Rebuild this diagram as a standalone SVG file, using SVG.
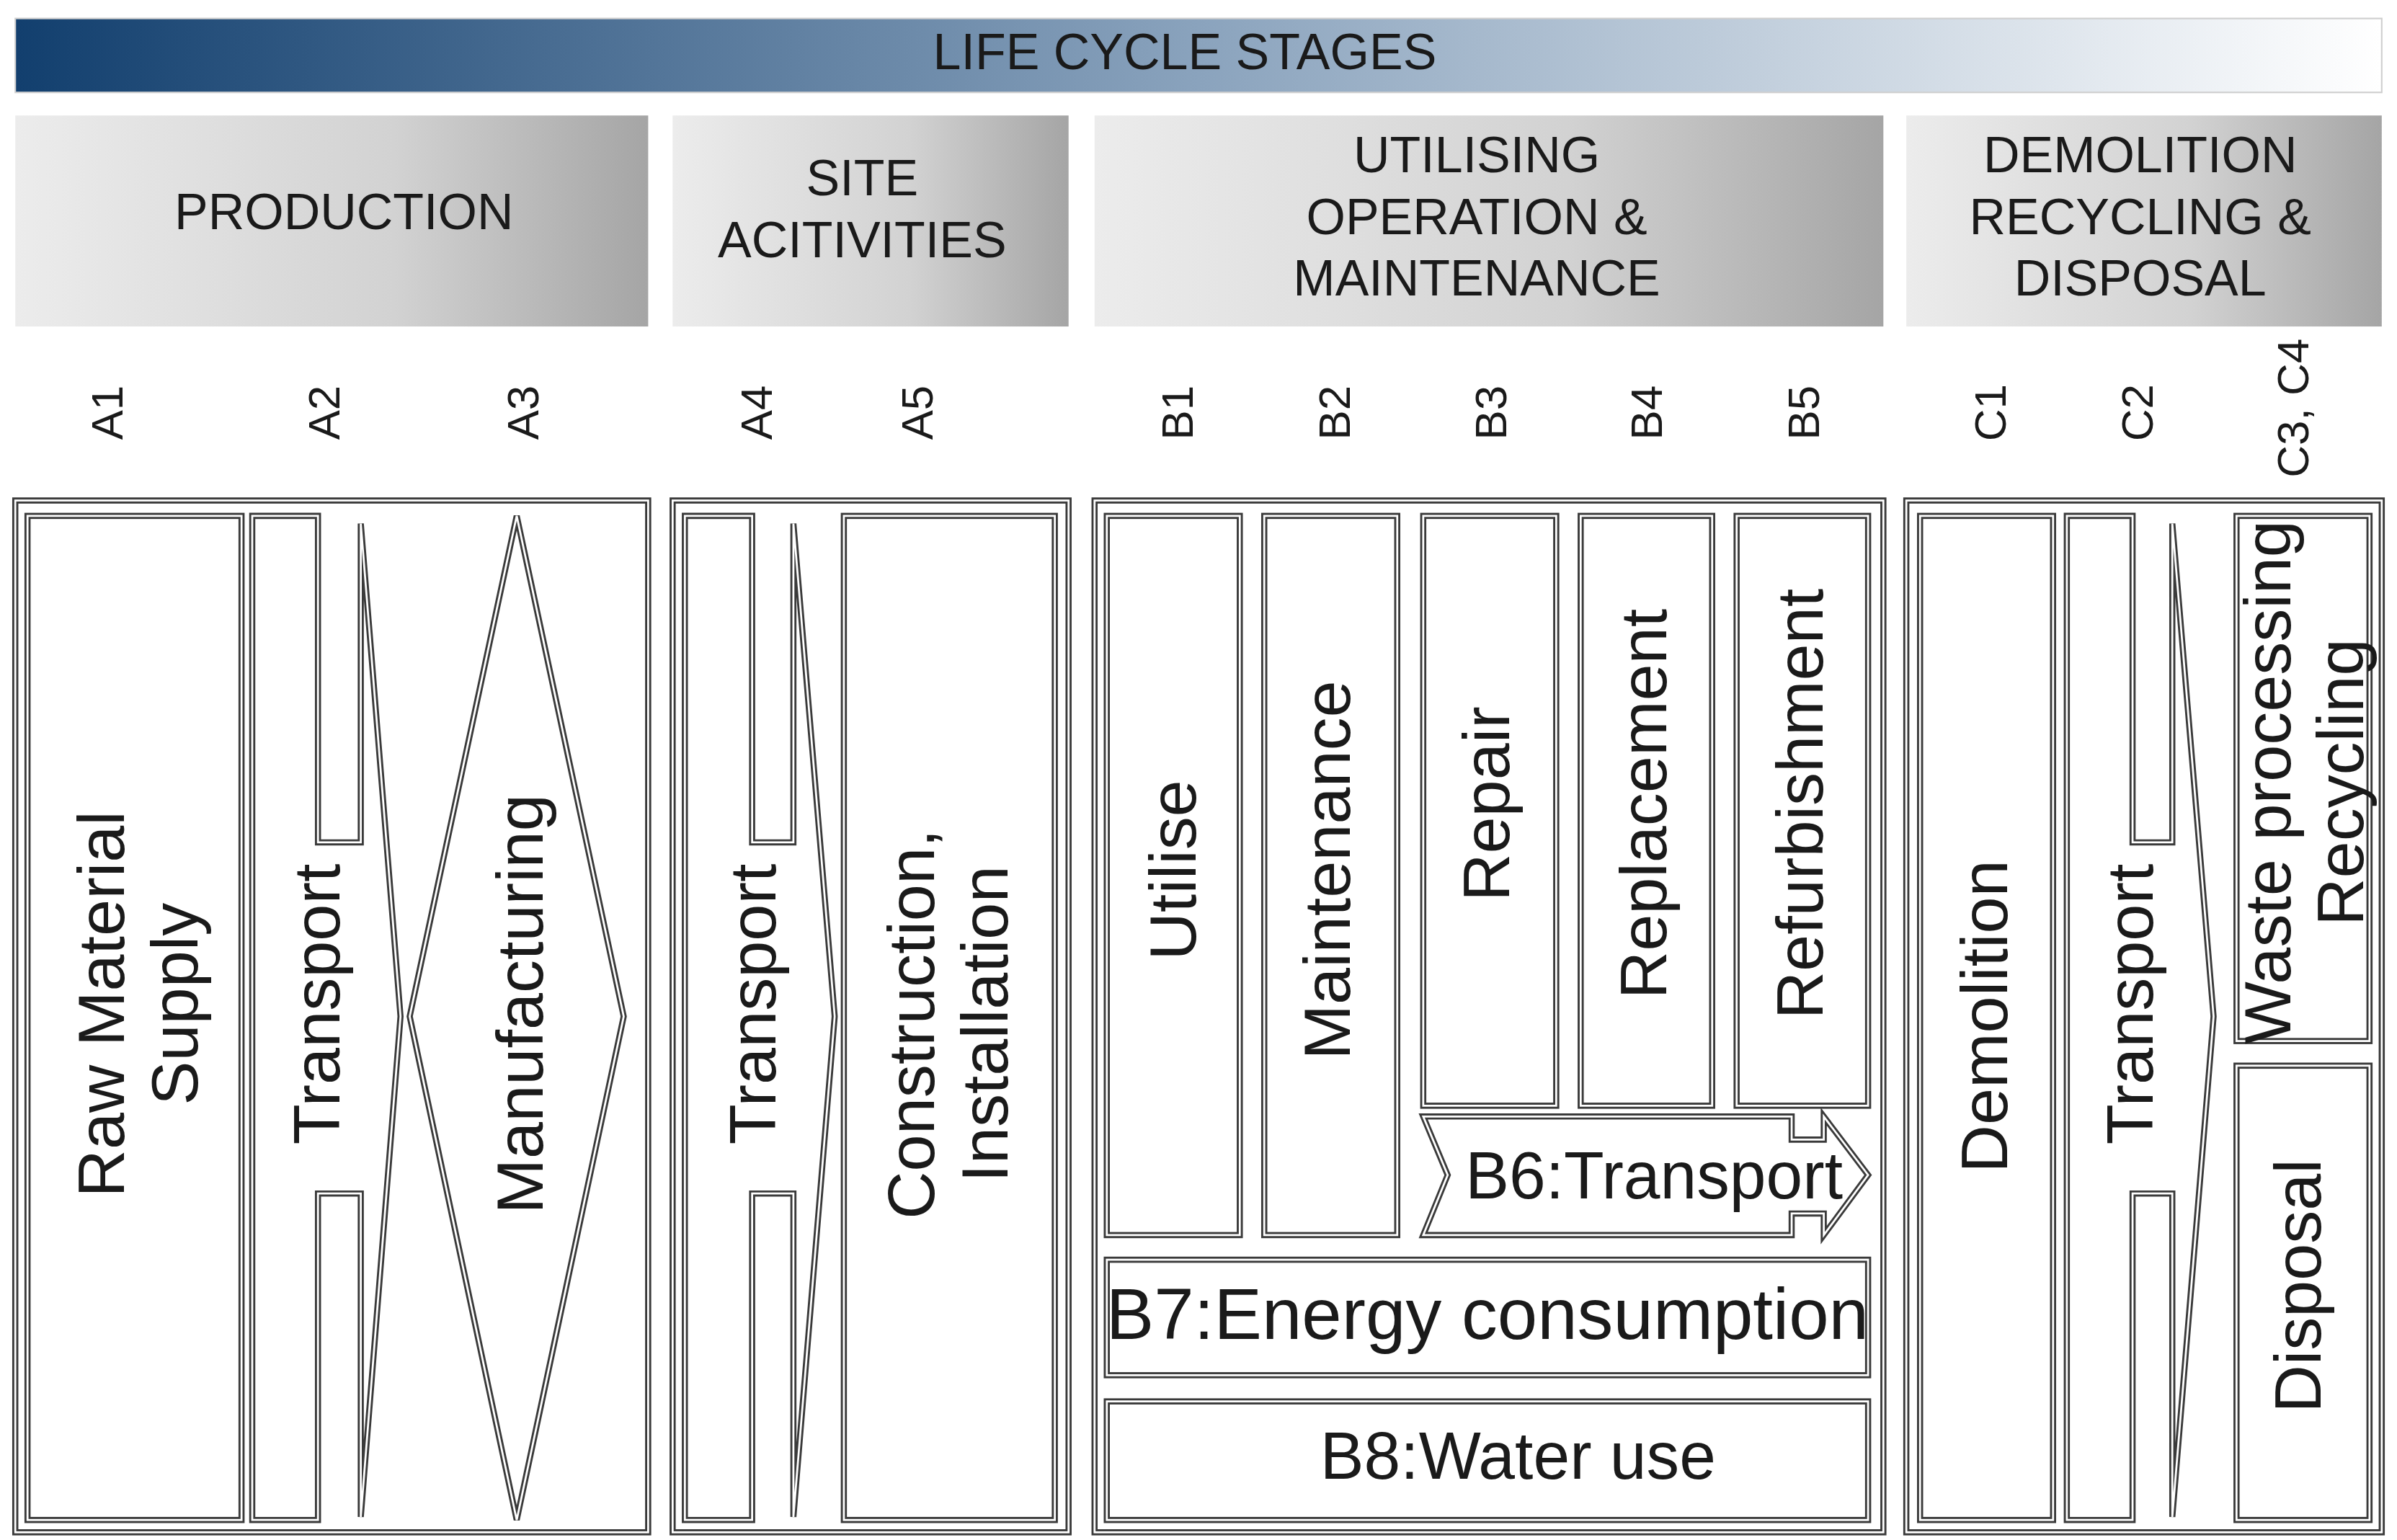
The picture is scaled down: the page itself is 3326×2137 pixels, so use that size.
<svg xmlns="http://www.w3.org/2000/svg" xmlns:xlink="http://www.w3.org/1999/xlink" width="3326" height="2137" viewBox="0 0 3326 2137">
<style>
text{font-family:"Liberation Sans",Arial,sans-serif;fill:#1a1a1a}
.o{fill:#fff;stroke:#3a3a3a;stroke-width:4}
.i{fill:none;stroke:#fff;stroke-width:1.3}
.h{font-size:33px;text-anchor:middle}
.c{font-size:29px;text-anchor:middle;dominant-baseline:central}
.t{font-size:43px;text-anchor:middle;dominant-baseline:central}
</style>
<defs>
<linearGradient id="gt" x1="0" x2="1"><stop offset="0" stop-color="#123f6e"/><stop offset="0.5" stop-color="#8aa3bd"/><stop offset="1" stop-color="#ffffff"/></linearGradient>
<linearGradient id="gh" x1="0" x2="1"><stop offset="0" stop-color="#ececec"/><stop offset="0.6" stop-color="#d2d2d2"/><stop offset="1" stop-color="#a5a5a5"/></linearGradient>
<rect id="p1" x="10" y="325" width="414" height="670"/>
<rect id="p2" x="440" y="325" width="259" height="670"/>
<rect id="p3" x="716" y="325" width="516" height="670"/>
<rect id="p4" x="1247" y="325" width="311" height="670"/>
<rect id="raw" x="18" y="335" width="140" height="652"/>
<polygon id="tr1" points="165,335 208,335 208,547 236,547 236,340 262,660 236,985 236,775 208,775 208,987 165,987"/>
<polygon id="man" points="338,335 408,660 338,987 268,660"/>
<polygon id="tr2" points="448,335 492,335 492,547 519,547 519,340 546,660 519,985 519,775 492,775 492,987 448,987"/>
<rect id="con" x="552" y="335" width="138" height="652"/>
<rect id="b1" x="724" y="335" width="87" height="467"/>
<rect id="b2" x="827" y="335" width="87" height="467"/>
<rect id="b3" x="931" y="335" width="87" height="383"/>
<rect id="b4" x="1034" y="335" width="86" height="383"/>
<rect id="b5" x="1136" y="335" width="86" height="383"/>
<polygon id="b6" points="931,725 1172,725 1172,740 1193,740 1193,725 1222,763 1193,802 1193,788 1172,788 1172,802 931,802 947,763"/>
<rect id="b7" x="724" y="818" width="498" height="75"/>
<rect id="b8" x="724" y="910" width="498" height="77"/>
<rect id="c1" x="1256" y="335" width="87" height="652"/>
<polygon id="tr3" points="1352,335 1395,335 1395,547 1421,547 1421,340 1448,660 1421,985 1421,775 1395,775 1395,987 1352,987"/>
<rect id="c3" x="1463" y="335" width="87" height="341"/>
<rect id="c4" x="1463" y="692" width="87" height="295"/>
</defs>
<g transform="scale(2.1212,2.137)">
<g id="title"><rect x="10" y="12" width="1548" height="48" fill="url(#gt)" stroke="#cfcfcf"/><text class="h" x="775" y="45" fill="#1f2f45">LIFE CYCLE STAGES</text></g>
<g id="headers">
<rect x="10" y="75" width="414" height="137" fill="url(#gh)"/>
<rect x="440" y="75" width="259" height="137" fill="url(#gh)"/>
<rect x="716" y="75" width="516" height="137" fill="url(#gh)"/>
<rect x="1247" y="75" width="311" height="137" fill="url(#gh)"/>
<text class="h" x="225" y="149">PRODUCTION</text>
<text class="h" x="564" y="127">SITE</text><text class="h" x="564" y="167">ACITIVITIES</text>
<text class="h" x="966" y="112">UTILISING</text><text class="h" x="966" y="152">OPERATION &amp;</text><text class="h" x="966" y="192">MAINTENANCE</text>
<text class="h" x="1400" y="112">DEMOLITION</text><text class="h" x="1400" y="152">RECYCLING &amp;</text><text class="h" x="1400" y="192">DISPOSAL</text>
</g>
<g id="codes">
<text class="c" transform="translate(70,268) rotate(-90)">A1</text>
<text class="c" transform="translate(212,268) rotate(-90)">A2</text>
<text class="c" transform="translate(342,268) rotate(-90)">A3</text>
<text class="c" transform="translate(495,268) rotate(-90)">A4</text>
<text class="c" transform="translate(600,268) rotate(-90)">A5</text>
<text class="c" transform="translate(770,268) rotate(-90)">B1</text>
<text class="c" transform="translate(873,268) rotate(-90)">B2</text>
<text class="c" transform="translate(975,268) rotate(-90)">B3</text>
<text class="c" transform="translate(1077,268) rotate(-90)">B4</text>
<text class="c" transform="translate(1180,268) rotate(-90)">B5</text>
<text class="c" transform="translate(1302,268) rotate(-90)">C1</text>
<text class="c" transform="translate(1398,268) rotate(-90)">C2</text>
<text class="c" transform="translate(1500,265) rotate(-90)">C3, C4</text>
</g>
<g id="panels"><use href="#p1" class="o"/><use href="#p1" class="i"/><use href="#p2" class="o"/><use href="#p2" class="i"/><use href="#p3" class="o"/><use href="#p3" class="i"/><use href="#p4" class="o"/><use href="#p4" class="i"/></g>
<g id="raw-material"><use href="#raw" class="o"/><use href="#raw" class="i"/><text class="t" transform="translate(90,652) rotate(-90)"><tspan x="0" dy="-24">Raw Material</tspan><tspan x="0" dy="48">Supply</tspan></text></g>
<g id="transport-a2"><use href="#tr1" class="o"/><use href="#tr1" class="i"/><text class="t" transform="translate(207,652) rotate(-90)">Transport</text></g>
<g id="manufacturing"><use href="#man" class="o"/><use href="#man" class="i"/><text class="t" transform="translate(340,652) rotate(-90)">Manufacturing</text></g>
<g id="transport-a4"><use href="#tr2" class="o"/><use href="#tr2" class="i"/><text class="t" transform="translate(492,652) rotate(-90)">Transport</text></g>
<g id="construction"><use href="#con" class="o"/><use href="#con" class="i"/><text class="t" transform="translate(620,665) rotate(-90)"><tspan x="0" dy="-24">Construction,</tspan><tspan x="0" dy="48">Installation</tspan></text></g>
<g id="utilise"><use href="#b1" class="o"/><use href="#b1" class="i"/><text class="t" transform="translate(767,565) rotate(-90)">Utilise</text></g>
<g id="maintenance"><use href="#b2" class="o"/><use href="#b2" class="i"/><text class="t" transform="translate(868,565) rotate(-90)">Maintenance</text></g>
<g id="repair"><use href="#b3" class="o"/><use href="#b3" class="i"/><text class="t" transform="translate(972,522) rotate(-90)">Repair</text></g>
<g id="replacement"><use href="#b4" class="o"/><use href="#b4" class="i"/><text class="t" transform="translate(1075,522) rotate(-90)">Replacement</text></g>
<g id="refurbishment"><use href="#b5" class="o"/><use href="#b5" class="i"/><text class="t" transform="translate(1177,522) rotate(-90)">Refurbishment</text></g>
<g id="b6-transport"><use href="#b6" class="o"/><use href="#b6" class="i"/><text class="t" x="1082" y="763">B6:Transport</text></g>
<g id="b7-energy"><use href="#b7" class="o"/><use href="#b7" class="i"/><text class="t" x="973" y="853" style="font-size:47px">B7:Energy consumption</text></g>
<g id="b8-water"><use href="#b8" class="o"/><use href="#b8" class="i"/><text class="t" x="993" y="945">B8:Water use</text></g>
<g id="demolition"><use href="#c1" class="o"/><use href="#c1" class="i"/><text class="t" transform="translate(1298,660) rotate(-90)">Demolition</text></g>
<g id="transport-c2"><use href="#tr3" class="o"/><use href="#tr3" class="i"/><text class="t" transform="translate(1393,652) rotate(-90)">Transport</text></g>
<g id="waste"><use href="#c3" class="o"/><use href="#c3" class="i"/><text class="t" transform="translate(1507,508) rotate(-90)"><tspan x="0" dy="-24">Waste processing</tspan><tspan x="0" dy="48">Recycling</tspan></text></g>
<g id="disposal"><use href="#c4" class="o"/><use href="#c4" class="i"/><text class="t" transform="translate(1503,835) rotate(-90)">Disposal</text></g>
<g id="connectors"/>
</g>
</svg>
